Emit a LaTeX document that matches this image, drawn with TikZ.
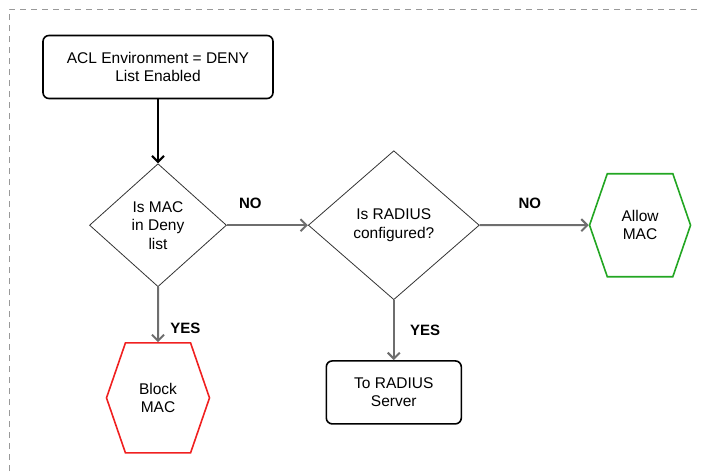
\documentclass[tikz,border=0pt]{standalone}
\usepackage{fontspec}
\setmainfont{Liberation Sans}
\usetikzlibrary{positioning}
\usetikzlibrary{shapes.geometric}
\usetikzlibrary{shapes.symbols}
\usetikzlibrary{arrows.meta}
\definecolor{flowgray}{HTML}{6E6E6E}
\definecolor{allowgreen}{HTML}{22A622}
\definecolor{blockred}{HTML}{F02020}

\begin{document}
\begin{tikzpicture}[x=1pt, y=1pt, thick, font=\fontsize{15.5}{18.5}\selectfont,
    >={Straight Barb[length=6pt, width=12pt]},
    box/.style = {draw, line width=1.6pt, rounded corners=6pt, align=center},
    test/.style = {draw=black!80, diamond, line width=0.8pt, align=center, inner sep=0pt},
    hexa/.style = {draw, signal, signal to=east and west, signal pointer angle=142, line width=1.6pt, align=center, minimum width=101pt, minimum height=103pt, inner sep=0pt},
    flow/.style = {->, line width=2pt, flowgray},
    answer/.style = {black, font=\fontsize{15}{18}\selectfont\bfseries}]
            \useasboundingbox (0,0) rectangle (701,-471);
            \draw[gray!80, line width=0.8pt, dash pattern=on 6pt off 5pt] (9,-471) -- (9,-9) -- (701,-9);
            \node[box, minimum width=230pt, minimum height=63pt] (1) at (158,-67) {ACL Environment = DENY\\List Enabled};
            \node[test, minimum width=137pt, minimum height=123pt] (2) [below=64pt of 1] {Is MAC\\in Deny\\list};
            \node[test, minimum width=171pt, minimum height=149pt] (3) [right=81pt of 2] {Is RADIUS\\configured?};
            \node[hexa, draw=allowgreen] (4) [right=109pt of 3] {Allow\\MAC};
            \node[hexa, draw=blockred, minimum width=103pt, minimum height=110pt] (5) [below=55pt of 2] {Block\\MAC};
            \node[box, minimum width=135pt, minimum height=63pt] (6) [below=60pt of 3] {To RADIUS\\Server};
            \draw[->, line width=2pt] (1) -- (2);
            \draw[flow] (2) -- node[answer, pos=0.29, above=12pt] {NO} (3);
            \draw[flow] (3) -- node[answer, pos=0.46, above=12pt] {NO} (4);
            \draw[flow] (2) -- node[answer, pos=0.75, right=8pt] {YES} (5);
            \draw[flow] (3) -- node[answer, pos=0.5, right=12pt] {YES} (6);
        \end{tikzpicture}
\end{document}
